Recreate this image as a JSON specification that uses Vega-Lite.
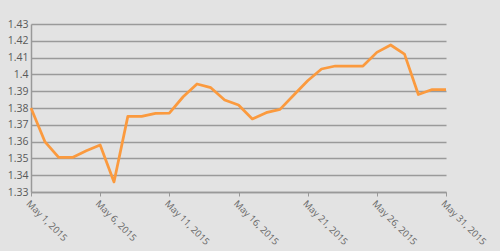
{
  "$schema": "https://vega.github.io/schema/vega-lite/v6.json",
  "width": 415,
  "height": 168,
  "autosize": {"type": "none"},
  "padding": {"left": 31, "top": 24, "right": 54, "bottom": 59},
  "background": "#e3e3e3",
  "config": {"view": {"stroke": null}},
  "data": {
    "values": [
      {"date": "2015-05-01", "rate": 1.380},
      {"date": "2015-05-02", "rate": 1.360},
      {"date": "2015-05-03", "rate": 1.3506},
      {"date": "2015-05-04", "rate": 1.3506},
      {"date": "2015-05-05", "rate": 1.3546},
      {"date": "2015-05-06", "rate": 1.358},
      {"date": "2015-05-07", "rate": 1.336},
      {"date": "2015-05-08", "rate": 1.375},
      {"date": "2015-05-09", "rate": 1.375},
      {"date": "2015-05-10", "rate": 1.3768},
      {"date": "2015-05-11", "rate": 1.377},
      {"date": "2015-05-12", "rate": 1.3867},
      {"date": "2015-05-13", "rate": 1.3943},
      {"date": "2015-05-14", "rate": 1.3921},
      {"date": "2015-05-15", "rate": 1.3848},
      {"date": "2015-05-16", "rate": 1.3818},
      {"date": "2015-05-17", "rate": 1.3735},
      {"date": "2015-05-18", "rate": 1.3772},
      {"date": "2015-05-19", "rate": 1.3792},
      {"date": "2015-05-20", "rate": 1.3877},
      {"date": "2015-05-21", "rate": 1.3962},
      {"date": "2015-05-22", "rate": 1.4032},
      {"date": "2015-05-23", "rate": 1.405},
      {"date": "2015-05-24", "rate": 1.405},
      {"date": "2015-05-25", "rate": 1.405},
      {"date": "2015-05-26", "rate": 1.4131},
      {"date": "2015-05-27", "rate": 1.4175},
      {"date": "2015-05-28", "rate": 1.4121},
      {"date": "2015-05-29", "rate": 1.388},
      {"date": "2015-05-30", "rate": 1.391},
      {"date": "2015-05-31", "rate": 1.391}
    ]
  },
  "mark": {"type": "line", "color": "#fb9a3e", "strokeWidth": 2.75, "strokeJoin": "round"},
  "encoding": {
    "x": {
      "field": "date",
      "type": "temporal",
      "scale": {"type": "utc", "domain": [{"year": 2015, "month": 5, "date": 1, "utc": true}, {"year": 2015, "month": 5, "date": 31, "utc": true}], "nice": false},
      "axis": {
        "title": null,
        "values": [
          {"year": 2015, "month": 5, "date": 1, "utc": true},
          {"year": 2015, "month": 5, "date": 6, "utc": true},
          {"year": 2015, "month": 5, "date": 11, "utc": true},
          {"year": 2015, "month": 5, "date": 16, "utc": true},
          {"year": 2015, "month": 5, "date": 21, "utc": true},
          {"year": 2015, "month": 5, "date": 26, "utc": true},
          {"year": 2015, "month": 5, "date": 31, "utc": true}
        ],
        "format": "%b %-d, %Y",
        "grid": false,
        "labelAngle": 45,
        "labelAlign": "left",
        "labelBaseline": "top",
        "labelFont": "Open Sans",
        "labelFontSize": 9.5,
        "labelColor": "#666666",
        "labelPadding": 2,
        "labelOverlap": false,
        "labelFlush": false,
        "tickSize": 4,
        "tickColor": "#999999",
        "domainColor": "#999999",
        "domainWidth": 1.5
      }
    },
    "y": {
      "field": "rate",
      "type": "quantitative",
      "scale": {"domain": [1.33, 1.43], "nice": false, "zero": false},
      "axis": {
        "title": null,
        "values": [1.33, 1.34, 1.35, 1.36, 1.37, 1.38, 1.39, 1.40, 1.41, 1.42, 1.43],
        "format": ".2~f",
        "ticks": false,
        "grid": true,
        "gridColor": "#9a9a9a",
        "gridWidth": 1.3,
        "gridOpacity": 1,
        "domainColor": "#999999",
        "domainWidth": 1.5,
        "labelFont": "Open Sans",
        "labelFontSize": 10.5,
        "labelColor": "#595959",
        "labelPadding": 3
      }
    }
  }
}
